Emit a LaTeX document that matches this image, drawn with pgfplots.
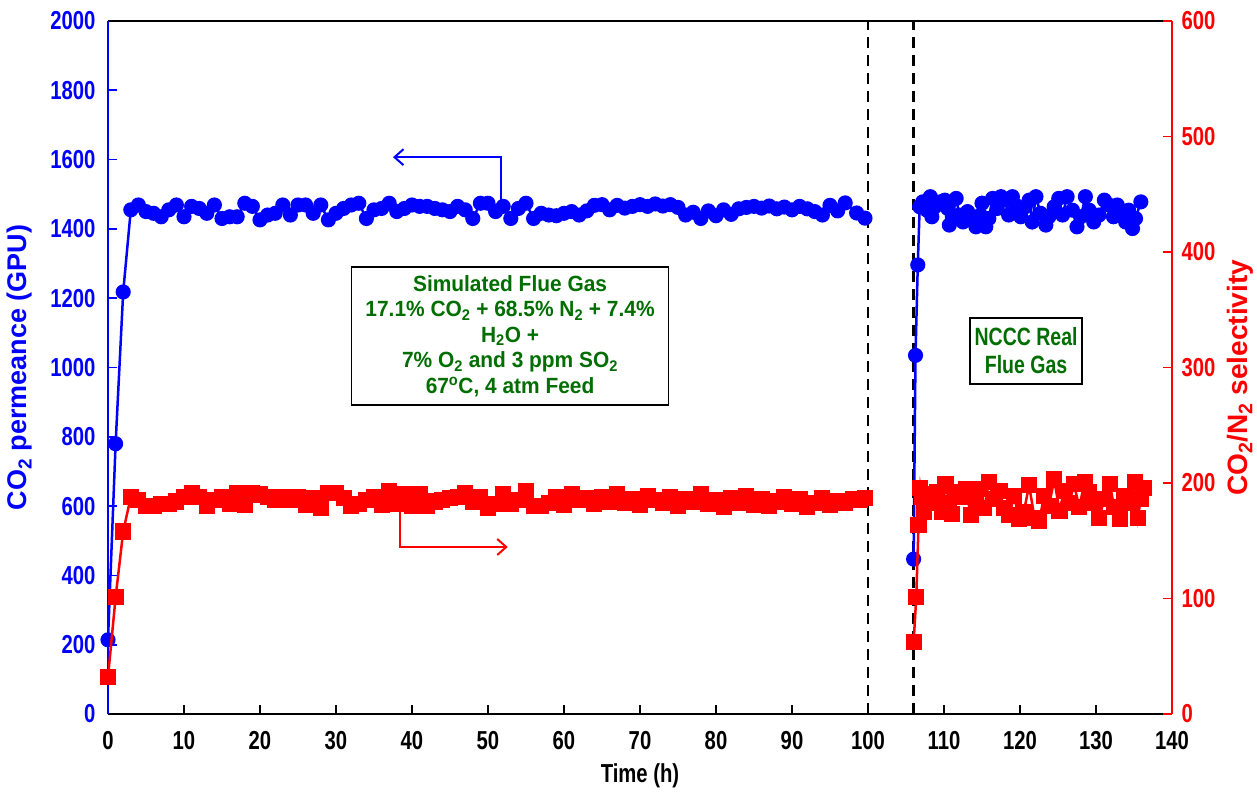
\documentclass[border=0pt]{standalone}
\usepackage{fontspec}
\setmainfont{Liberation Sans}
\newfontfamily\narrowfont{Liberation Sans}[FakeStretch=0.78]
\newfontfamily\semifont{Liberation Sans}[FakeStretch=0.95]
\usepackage{pgfplots}
\pgfplotsset{compat=1.18}
\usetikzlibrary{arrows.meta}
\definecolor{myblue}{RGB}{0,0,255}
\definecolor{myred}{RGB}{255,0,0}
\definecolor{mygreen}{RGB}{0,110,0}
\newcommand{\tickfont}{\narrowfont\bfseries\fontsize{26}{28}\selectfont}

\pgfplotstableread{
t v
0 214
1 780
2 1218
3 1455
4 1469
5 1450
6 1445
7 1435
8 1455
9 1469
10 1435
11 1465
12 1459
13 1445
14 1469
15 1430
16 1435
17 1435
18 1474
19 1465
20 1426
21 1440
22 1445
23 1469
24 1440
25 1469
26 1469
27 1445
28 1469
29 1426
30 1445
31 1459
32 1469
33 1474
34 1430
35 1455
36 1459
37 1474
38 1450
39 1459
40 1469
41 1465
42 1465
43 1459
44 1455
45 1450
46 1465
47 1455
48 1430
49 1474
50 1474
51 1450
52 1465
53 1430
54 1459
55 1474
56 1430
57 1445
58 1440
59 1438
60 1445
61 1450
62 1440
63 1452
64 1468
65 1470
66 1455
67 1468
68 1460
69 1465
70 1470
71 1465
72 1472
73 1466
74 1470
75 1462
76 1440
77 1448
78 1430
79 1452
80 1438
81 1455
82 1442
83 1458
84 1462
85 1465
86 1460
87 1466
88 1458
89 1463
90 1455
91 1465
92 1458
93 1450
94 1440
95 1468
96 1452
97 1475
98.5 1446
99.6 1431
}\blueA

\pgfplotstableread{
t v
106.0 447
106.25 1035
106.55 1296
106.8 1464
107.2 1478
107.7 1455
108.2 1493
108.4 1435
108.8 1464
109.5 1478
110.1 1483
110.5 1459
110.7 1411
111.1 1435
111.6 1488
112.0 1440
112.5 1420
113.1 1450
113.7 1430
114.2 1406
114.8 1440
115.0 1474
115.5 1406
115.9 1430
116.4 1488
117.0 1459
117.5 1493
118.1 1483
118.5 1440
119.0 1493
119.4 1469
120.1 1435
120.7 1464
121.2 1483
121.6 1420
122.1 1493
122.7 1445
123.4 1411
123.8 1435
124.5 1464
125.1 1488
125.6 1440
126.2 1493
126.9 1454
127.5 1406
128.0 1435
128.6 1493
129.1 1454
129.7 1420
130.4 1440
131.1 1483
131.7 1469
132.3 1435
132.8 1469
133.4 1450
133.9 1420
134.3 1454
134.8 1401
135.2 1430
135.9 1478
}\blueB

\pgfplotstableread{
t v
0 32
1 101
2 158
3 188
4 185
5 180
6 180
7 182
8 182
9 184
10 188
11 191
12 188
13 180
14 185
15 188
16 182
17 191
18 181
19 191
20 190
21 188
22 185
23 188
24 185
25 188
26 181
27 187
28 178
29 191
30 191
31 187
32 180
33 182
34 185
35 188
36 181
37 193
38 182
39 190
40 180
41 190
42 180
43 184
44 185
45 187
46 188
47 191
48 184
49 188
50 178
51 182
52 190
53 182
54 185
55 193
56 180
57 180
58 183
59 188
60 181
61 190
62 185
63 187
64 182
65 188
66 184
67 190
68 183
69 186
70 181
71 189
72 185
73 183
74 188
75 180
76 186
77 184
78 190
79 182
80 185
81 179
82 187
83 183
84 189
85 181
86 186
87 180
88 184
89 188
90 182
91 186
92 179
93 183
94 187
95 181
96 184
97 183
98 186
99 185
99.6 187
}\redA

\pgfplotstableread{
t v
106.0 62
106.35 101
106.65 164
106.9 196
107.1 188
107.4 175
107.8 190
108.5 183
109.1 192
109.8 175
110.2 199
110.7 183
111.1 173
111.5 192
112.2 188
112.9 195
113.5 172
114.2 182
114.6 195
115.3 178
115.9 201
116.6 186
117.3 193
117.9 178
118.6 172
119.2 189
119.9 169
120.5 175
121.2 198
121.9 170
122.5 167
123.2 189
123.8 180
124.5 203
125.2 176
125.8 193
126.5 183
127.1 199
127.8 179
128.5 201
129.1 192
129.8 183
130.4 170
131.1 186
131.8 199
132.4 179
133.1 169
133.7 189
134.4 183
135.1 201
135.5 170
135.9 186
136.3 196
}\redB

\begin{document}
\begin{tikzpicture}
\useasboundingbox (-108pt,-81pt) rectangle (1149pt,714pt);
\begin{axis}[
  scale only axis, width=1064pt, height=693pt,
  xmin=0, xmax=140, ymin=0, ymax=2000,
  xtick={0,10,...,140}, ytick={0,200,...,2000},
  xtick pos=bottom, ytick pos=left,
  tick align=inside, major tick length=9pt,
  separate axis lines,
  x axis line style={black, line width=2pt},
  y axis line style={myblue, line width=2pt},
  xtick style={black, line width=1.8pt},
  ytick style={myblue, line width=1.8pt},
  /pgf/number format/assume math mode=true,
  /pgf/number format/1000 sep={},
  xticklabel style={font=\tickfont, text=black, yshift=-14pt},
  yticklabel style={font=\tickfont, text=myblue, xshift=-9pt},
  xlabel={Time (h)},
  xlabel style={font=\tickfont, text=black, at={(axis description cs:0.5,-0.0895)}, anchor=center},
  ylabel={CO\textsubscript{2} permeance (GPU)},
  ylabel style={font=\bfseries\fontsize{27}{30}\selectfont, text=myblue, at={(axis description cs:-0.0827,0.5)}, anchor=center},
]
\addplot[black, line width=2.6pt, dash pattern=on 11pt off 7pt] coordinates {(100,0) (100,2000)};
\addplot[black, line width=2.6pt, dash pattern=on 11pt off 7pt] coordinates {(106,0) (106,2000)};
\addplot[myblue, line width=2.5pt, mark=*, mark size=6.3pt, mark options={solid}] table[x=t,y=v] {\blueA};
\addplot[myblue, line width=2.5pt, mark=*, mark size=6.3pt, mark options={solid}] table[x=t,y=v] {\blueB};
\draw[myblue, line width=2pt, -{Straight Barb[length=9pt,width=16pt,line width=2pt]}] (axis cs:51.7,1470) -- (axis cs:51.7,1607) -- (axis cs:37.5,1607);
\draw[myred, line width=2pt, -{Straight Barb[length=9pt,width=16pt,line width=2pt]}] (axis cs:38.4,610) -- (axis cs:38.4,482) -- (axis cs:52.6,482);
\node[draw=black, line width=1.6pt, fill=white, align=center, text=mygreen,
      font=\semifont\bfseries\fontsize{22}{25.5}\selectfont,
      minimum width=317pt, minimum height=138pt, inner sep=2pt]
  at (axis cs:52.9,1091)
  {Simulated Flue Gas\\17.1\% CO\textsubscript{2} + 68.5\% N\textsubscript{2} + 7.4\%\\H\textsubscript{2}O +\\7\% O\textsubscript{2} and 3 ppm SO\textsubscript{2}\\67\textsuperscript{o}C, 4 atm Feed};
\node[draw=black, line width=1.6pt, fill=white, align=center, text=mygreen,
      font=\narrowfont\bfseries\fontsize{25}{28}\selectfont,
      minimum width=112pt, minimum height=66pt, inner sep=2pt]
  at (axis cs:120.8,1048)
  {NCCC Real\\Flue Gas};
\end{axis}
\begin{axis}[
  scale only axis, width=1064pt, height=693pt,
  xmin=0, xmax=140, ymin=0, ymax=600,
  axis x line=none, axis y line*=right,
  y axis line style={myred, line width=2pt, -},
  ytick={0,100,...,600},
  tick align=inside, major tick length=9pt,
  ytick style={myred, line width=1.8pt},
  /pgf/number format/assume math mode=true,
  yticklabel style={font=\tickfont, text=myred, xshift=6pt},
  ylabel={CO\textsubscript{2}/N\textsubscript{2} selectivity},
  ylabel style={font=\bfseries\fontsize{28}{30}\selectfont, text=myred, at={(axis description cs:1.0639,0.485)}, anchor=center},
]
\addplot[myred, line width=2.5pt, mark=square*, mark size=6.8pt, mark options={solid}] table[x=t,y=v] {\redA};
\addplot[myred, line width=2.5pt, mark=square*, mark size=6.8pt, mark options={solid}] table[x=t,y=v] {\redB};
\end{axis}
\end{tikzpicture}
\end{document}
